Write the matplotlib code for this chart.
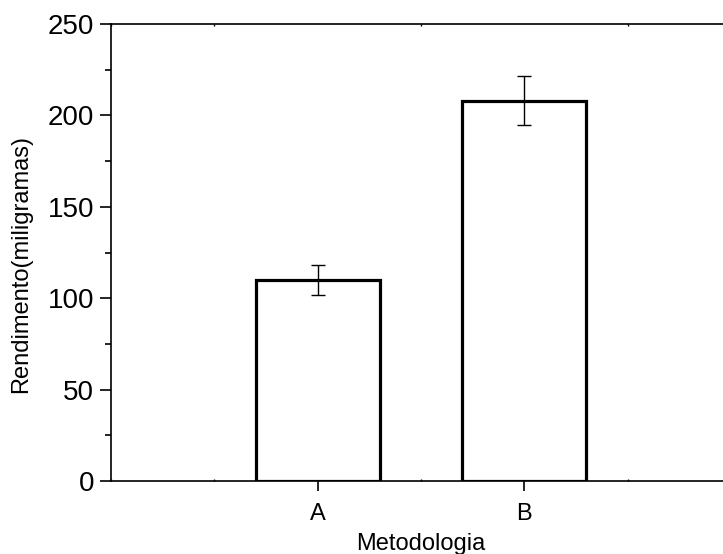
import matplotlib
matplotlib.use("Agg")
import matplotlib.pyplot as plt
from matplotlib.ticker import MultipleLocator

plt.rcParams['font.family'] = ['Liberation Sans', 'DejaVu Sans']

metodologia = ['A', 'B']
rendimento = [110, 208]
erro = [8, 13.5]

fig = plt.figure(figsize=(7.23, 5.54), dpi=100)
# axes spans x 0..3; right spine falls off the figure as in the original
ax = fig.add_axes([111 / 723, 73 / 554, 620 / 723, 457 / 554])

pos = [1, 2]
ax.bar(pos, rendimento, width=0.6, color='white', edgecolor='black', linewidth=2.3, zorder=2)
ax.errorbar(pos, rendimento, yerr=erro, fmt='none', ecolor='black', elinewidth=1,
            capsize=5, capthick=1, zorder=3)

ax.set_xlim(0, 3)
ax.set_ylim(0, 250)
ax.set_xticks(pos)
ax.set_xticklabels(metodologia)
ax.xaxis.set_minor_locator(MultipleLocator(0.5))
ax.yaxis.set_major_locator(MultipleLocator(50))
ax.yaxis.set_minor_locator(MultipleLocator(25))

for s in ax.spines.values():
    s.set_linewidth(1.2)
ax.spines['right'].set_visible(False)

ax.tick_params(axis='y', which='major', direction='out', length=8, width=1.2, labelsize=20, pad=4)
ax.tick_params(axis='y', which='minor', direction='out', length=4, width=1.2)
ax.tick_params(axis='x', which='major', direction='out', length=7, width=1.2, labelsize=17, pad=9)
ax.tick_params(axis='x', which='minor', direction='in', length=1.5, width=1, top=True)

ax.set_xlabel('Metodologia', fontsize=17)
ax.set_ylabel('Rendimento(miligramas)', fontsize=17)
ax.xaxis.set_label_coords(0.5, -0.114)
ax.yaxis.set_label_coords(-0.127, 0.475)

fig.savefig('out.png', dpi=100)
